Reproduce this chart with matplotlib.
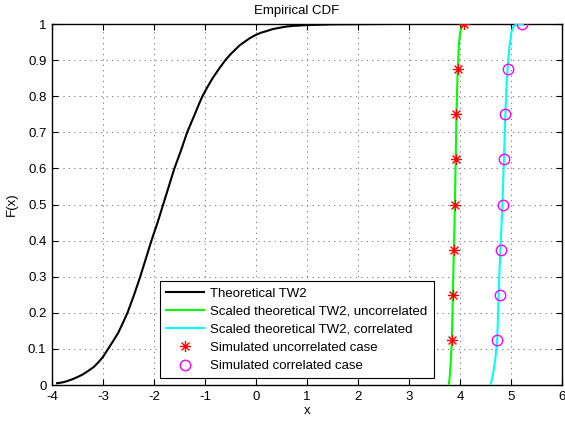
import matplotlib
matplotlib.use("Agg")
import matplotlib.pyplot as plt
from matplotlib.path import Path

plt.rcParams['font.family'] = ['Liberation Sans', 'DejaVu Sans']
plt.rcParams['axes.unicode_minus'] = False

# Theoretical TW2 CDF
tw2_x = [-3.9, -3.8, -3.72, -3.6, -3.5, -3.4, -3.3, -3.18, -3.09, -3.0, -2.9,
         -2.8, -2.7, -2.61, -2.52, -2.455, -2.39, -2.27, -2.16, -2.05, -1.93,
         -1.82, -1.71, -1.6, -1.47, -1.35, -1.2, -1.125, -1.05, -0.95, -0.85,
         -0.72, -0.6, -0.5, -0.4, -0.32, -0.23, -0.12, 0.0, 0.1, 0.2, 0.33,
         0.48, 0.6, 0.75, 1.0, 1.5, 2.5]
tw2_y = [0.005, 0.007, 0.01, 0.016, 0.022, 0.029, 0.038, 0.05, 0.063, 0.078, 0.1,
         0.122, 0.145, 0.172, 0.2, 0.225, 0.25, 0.3, 0.35, 0.4, 0.45,
         0.5, 0.55, 0.6, 0.65, 0.7, 0.75, 0.776, 0.8, 0.826, 0.85,
         0.877, 0.9, 0.916, 0.93, 0.941, 0.95, 0.961, 0.97, 0.976, 0.98, 0.986,
         0.99, 0.993, 0.995, 0.997, 0.999, 1.0]

# Scaled theoretical TW2, uncorrelated
unc_x = [3.78, 3.80, 3.82, 3.84, 3.86, 3.88, 3.90, 3.915, 3.93, 3.955, 3.98,
         4.00, 4.04, 4.10]
unc_y = [0.0, 0.025, 0.065, 0.125, 0.25, 0.375, 0.5, 0.625, 0.75, 0.875,
         0.945, 0.974, 0.997, 1.0]

# Scaled theoretical TW2, correlated
cor_x = [4.60, 4.65, 4.69, 4.73, 4.77, 4.80, 4.835, 4.86, 4.885, 4.91, 4.94,
         4.97, 5.01, 5.05, 5.10, 5.23]
cor_y = [0.0, 0.032, 0.069, 0.125, 0.30, 0.40, 0.51, 0.62, 0.73, 0.82, 0.89,
         0.937, 0.979, 0.993, 0.999, 1.0]

# Simulated points
levels = [0.125, 0.25, 0.375, 0.5, 0.625, 0.75, 0.875, 1.0]
sim_unc_x = [3.84, 3.86, 3.88, 3.90, 3.915, 3.93, 3.955, 4.085]
sim_cor_x = [4.73, 4.78, 4.80, 4.835, 4.855, 4.89, 4.94, 5.216]

xticks = [-4, -3, -2, -1, 0, 1, 2, 3, 4, 5, 6]
yticks = [0, 0.1, 0.2, 0.3, 0.4, 0.5, 0.6, 0.7, 0.8, 0.9, 1]
yticklabels = ['0', '0.1', '0.2', '0.3', '0.4', '0.5', '0.6', '0.7', '0.8', '0.9', '1']

# MATLAB-style asterisk marker (8 arms)
d = 0.7071
asterisk = Path(
    [(-1, 0), (1, 0), (0, -1), (0, 1), (-d, -d), (d, d), (-d, d), (d, -d)],
    [Path.MOVETO, Path.LINETO] * 4)

fig = plt.figure(figsize=(5.65, 4.21), dpi=100)
ax = fig.add_axes([52/565, 36/421, 510/565, 361/421])

ax.plot(tw2_x, tw2_y, color='black', lw=1.5, label='Theoretical TW2', zorder=3)
ax.plot(unc_x, unc_y, color=(0, 1, 0), lw=1.5,
        label='Scaled theoretical TW2, uncorrelated', zorder=3)
ax.plot(cor_x, cor_y, color=(0, 1, 1), lw=1.5,
        label='Scaled theoretical TW2, correlated', zorder=3)
ax.plot(sim_unc_x, levels, linestyle='none', marker=asterisk, color='red',
        markeredgecolor='red', markersize=8, markeredgewidth=1.0,
        label='Simulated uncorrelated case', zorder=4)
ax.plot(sim_cor_x, levels, linestyle='none', marker='o', markerfacecolor='none',
        markeredgecolor='magenta', markersize=7.5, markeredgewidth=1.0,
        label='Simulated correlated case', zorder=4)

ax.set_xlim(-4, 6)
ax.set_ylim(0, 1)
ax.set_xticks(xticks)
ax.set_yticks(yticks)
ax.set_yticklabels(yticklabels)
ax.tick_params(direction='in', top=True, right=True, length=4, width=0.8,
               labelsize=9.5, pad=4)
ax.grid(True, color='0.4', linestyle=(0, (1.5, 5)), linewidth=0.6)
for s in ax.spines.values():
    s.set_linewidth(1.0)

ax.set_title('Empirical CDF', fontsize=9.5, x=0.48, pad=7)
ax.set_xlabel('x', fontsize=9.5, labelpad=2)
ax.set_ylabel('F(x)', fontsize=9.5, labelpad=7)

leg = ax.legend(loc='lower left', bbox_to_anchor=(0.212, 0.019, 0.537, 0.269),
                mode='expand', borderaxespad=0, fontsize=9.5, fancybox=False,
                edgecolor='black', framealpha=1, handlelength=2.9,
                handletextpad=0.4, labelspacing=0.45, borderpad=0.45)
leg.get_frame().set_linewidth(0.8)

fig.savefig('out.png', dpi=100)
